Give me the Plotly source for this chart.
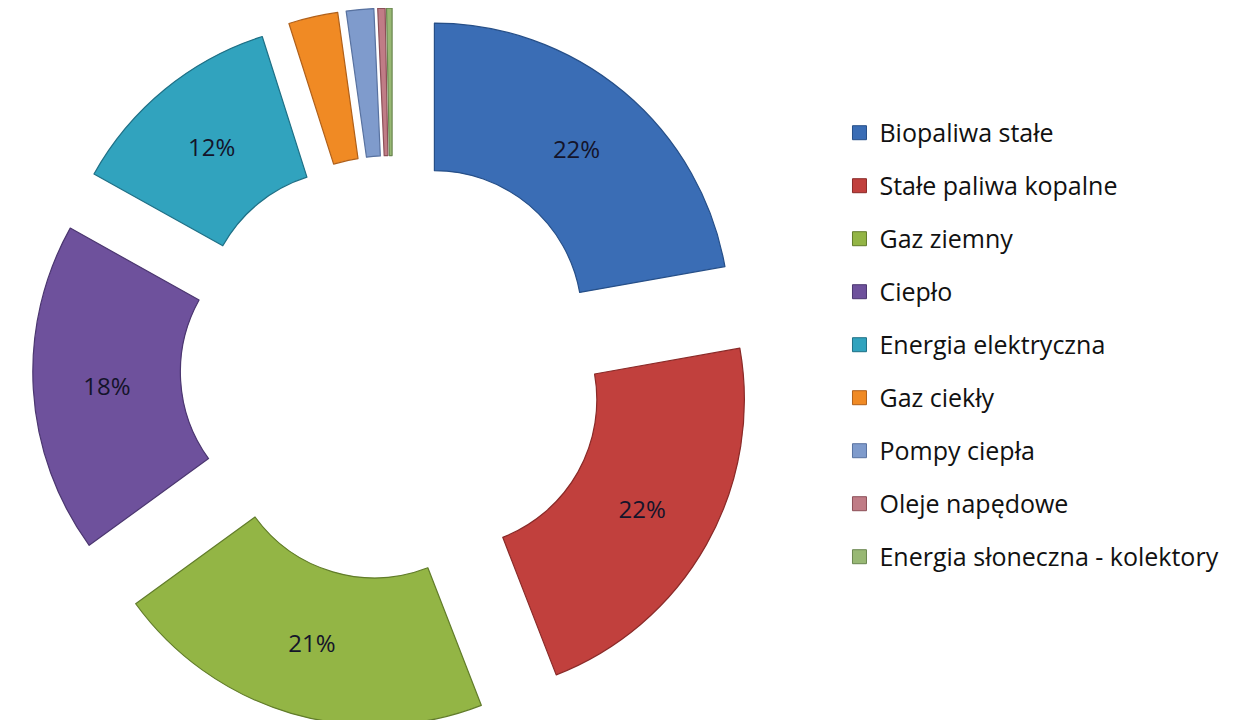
import plotly.graph_objects as go

# shares of energy carriers (percent)
categories = [
    "Biopaliwa stałe",
    "Stałe paliwa kopalne",
    "Gaz ziemny",
    "Ciepło",
    "Energia elektryczna",
    "Gaz ciekły",
    "Pompy ciepła",
    "Oleje napędowe",
    "Energia słoneczna - kolektory",
]
shares = [22.2, 21.9, 20.9, 18.1, 12.0, 2.7, 1.5, 0.4, 0.3]
shown_labels = [True, True, True, True, True, False, False, False, False]

COLORS = [
    "#3a6db5",  # blue
    "#c1403d",  # red
    "#93b545",  # green
    "#6e519c",  # purple
    "#31a3be",  # teal
    "#f08a24",  # orange
    "#7f9bcc",  # light blue
    "#c07c86",  # pink
    "#98b874",  # light green
]
EDGES = [
    "#264f88", "#8a2a28", "#617c2a", "#4b3670", "#1f7086",
    "#b0601a", "#5872a0", "#8c5058", "#6a8650",
]

fig = go.Figure()

fig.add_trace(go.Pie(
    labels=categories,
    values=shares,
    sort=False,
    direction="clockwise",
    rotation=0,
    hole=0.5,
    pull=[0.22] * len(categories),
    marker=dict(colors=COLORS, line=dict(color=EDGES, width=1.2)),
    texttemplate=["%{percent:.0%}" if s else "" for s in shown_labels],
    textposition="inside",
    insidetextorientation="horizontal",
    textfont=dict(family="Open Sans", size=24, color="#14142a"),
    domain=dict(x=[0, 0.62], y=[0, 1]),
    showlegend=False,
    hoverinfo="label+percent",
))

# legend entries, one group each so the spacing can be set
for i, name in enumerate(categories):
    fig.add_trace(go.Scatter(
        x=[None], y=[None],
        mode="markers",
        name=name,
        legendgroup=name,
        marker=dict(symbol="square", size=14, color=COLORS[i],
                    line=dict(color=EDGES[i], width=1)),
    ))

fig.update_layout(
    width=1241,
    height=720,
    margin=dict(t=0, b=0, l=0, r=0),
    paper_bgcolor="white",
    plot_bgcolor="white",
    xaxis=dict(visible=False),
    yaxis=dict(visible=False),
    legend=dict(
        x=0.670, y=0.532,
        xanchor="left", yanchor="middle",
        traceorder="grouped",
        tracegroupgap=17.5,
        font=dict(family="Open Sans", size=25, color="#111111"),
        itemwidth=30,
    ),
)

fig.write_html("out.html")
